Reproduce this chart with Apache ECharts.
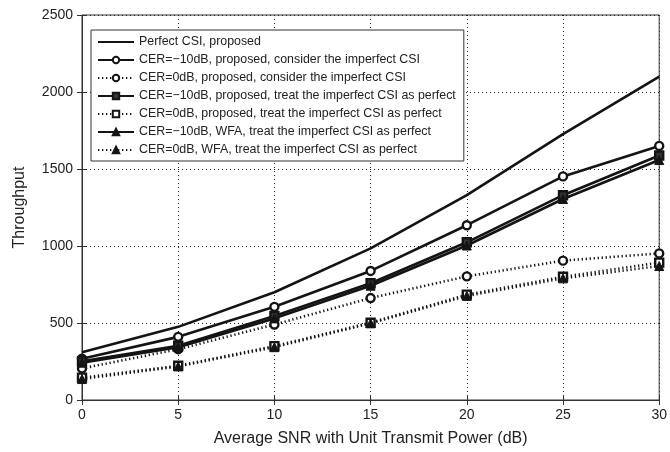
<!DOCTYPE html>
<html>
<head>
<meta charset="utf-8">
<script src="https://cdn.jsdelivr.net/npm/echarts@6/dist/echarts.min.js"></script>
<style>html,body{margin:0;padding:0;background:#fff;}#c{width:670px;height:452px;}</style>
</head>
<body>
<div id="c"></div>
<script>
const snr = [0, 5, 10, 15, 20, 25, 30];
const perfectCSI = [310, 475, 700, 985, 1330, 1727, 2100];
const cerM10Consider = [268, 410, 605, 838, 1135, 1452, 1650];
const cer0Consider = [205, 330, 490, 662, 803, 905, 952];
const cerM10Treat = [252, 352, 545, 758, 1024, 1330, 1588];
const cer0Treat = [145, 222, 350, 502, 684, 800, 892];
const cerM10WFA = [242, 343, 530, 742, 1003, 1305, 1558];
const cer0WFA = [136, 218, 343, 498, 676, 790, 870];
const names = [
  'Perfect CSI, proposed',
  'CER=\u221210dB, proposed, consider the imperfect CSI',
  'CER=0dB, proposed, consider the imperfect CSI',
  'CER=\u221210dB, proposed, treat the imperfect CSI as perfect',
  'CER=0dB, proposed, treat the imperfect CSI as perfect',
  'CER=\u221210dB, WFA, treat the imperfect CSI as perfect',
  'CER=0dB, WFA, treat the imperfect CSI as perfect'
];
const xTicks = [0, 5, 10, 15, 20, 25, 30];
const yTicks = [0, 500, 1000, 1500, 2000, 2500];

const pair = arr => snr.map((x, i) => [x, arr[i]]);
const C = '#141414';
const font = 'Liberation Sans, Arial, Helvetica, sans-serif';
function mk(name, arr, solid, symbol) {
  const s = {
    name: name, type: 'line', data: pair(arr),
    lineStyle: { color: C, width: 2.6, type: solid ? 'solid' : [1.3, 2.7] },
    itemStyle: { color: C },
    z: solid ? 3 : 2
  };
  if (!symbol) { s.symbol = 'none'; s.showSymbol = false; }
  else if (symbol === 'circle') {
    s.symbol = 'circle'; s.symbolSize = 8;
    s.itemStyle = { color: '#fff', borderColor: C, borderWidth: 2.4 };
  } else if (symbol === 'rect') {
    s.symbol = 'rect'; s.symbolSize = 8;
    s.itemStyle = { color: solid ? '#333' : '#fff', borderColor: C, borderWidth: 2.4 };
  } else if (symbol === 'triangle') {
    s.symbol = 'triangle'; s.symbolSize = 9;
    s.itemStyle = { color: C, borderColor: C, borderWidth: 1 };
  }
  return s;
}
const chart = echarts.init(document.getElementById('c'), null, { renderer: 'canvas' });
const axisText = { color: '#222', fontSize: 14, fontFamily: font };
const legendData = names.map((n, i) => i === 0 ? { name: n, itemStyle: { opacity: 0 } } : n);
chart.setOption({
  animation: false,
  backgroundColor: '#fff',
  grid: { left: 82, right: 10, top: 15, bottom: 49, show: true, borderColor: '#333', borderWidth: 1 },
  legend: {
    left: 91, top: 30, orient: 'vertical',
    backgroundColor: '#fff', borderColor: '#333', borderWidth: 1,
    padding: [6, 8, 5, 6],
    itemWidth: 36, itemHeight: 8, itemGap: 6,
    textStyle: { color: '#222', fontSize: 12.4, fontFamily: font },
    data: legendData
  },
  xAxis: [{
    type: 'value', min: xTicks[0], max: xTicks[xTicks.length - 1], interval: 5,
    name: 'Average SNR with Unit Transmit Power (dB)', nameLocation: 'middle', nameGap: 31,
    nameTextStyle: { color: '#222', fontSize: 16, fontFamily: font },
    axisLine: { lineStyle: { color: '#333', width: 1 } },
    axisTick: { inside: true, length: 5, lineStyle: { color: '#333' } },
    axisLabel: Object.assign({ margin: 8 }, axisText),
    splitLine: { show: true, lineStyle: { color: '#222', width: 1, type: [1, 3] } }
  }, {
    type: 'value', position: 'top', min: 0, max: 30, interval: 5,
    axisLine: { show: false }, axisTick: { inside: true, length: 5, lineStyle: { color: '#333' } },
    axisLabel: { show: false }, splitLine: { show: false }
  }],
  yAxis: [{
    type: 'value', min: yTicks[0], max: yTicks[yTicks.length - 1], interval: 500,
    name: 'Throughput', nameLocation: 'middle', nameGap: 54, nameRotate: 90,
    nameTextStyle: { color: '#222', fontSize: 16, fontFamily: font },
    axisLine: { show: true, lineStyle: { color: '#333', width: 1 } },
    axisTick: { show: true, inside: true, length: 5, lineStyle: { color: '#333' } },
    axisLabel: Object.assign({ margin: 9, formatter: v => String(v) }, axisText),
    splitLine: { show: true, lineStyle: { color: '#222', width: 1, type: [1, 3] } }
  }, {
    type: 'value', position: 'right', min: 0, max: 2500, interval: 500,
    axisLine: { show: false }, axisTick: { show: true, inside: true, length: 5, lineStyle: { color: '#333' } },
    axisLabel: { show: false }, splitLine: { show: false }
  }],
  series: [
    mk(names[0], perfectCSI, true, null),
    mk(names[1], cerM10Consider, true, 'circle'),
    mk(names[2], cer0Consider, false, 'circle'),
    mk(names[3], cerM10Treat, true, 'rect'),
    mk(names[4], cer0Treat, false, 'rect'),
    mk(names[5], cerM10WFA, true, 'triangle'),
    mk(names[6], cer0WFA, false, 'triangle')
  ]
});
</script>
</body>
</html>
